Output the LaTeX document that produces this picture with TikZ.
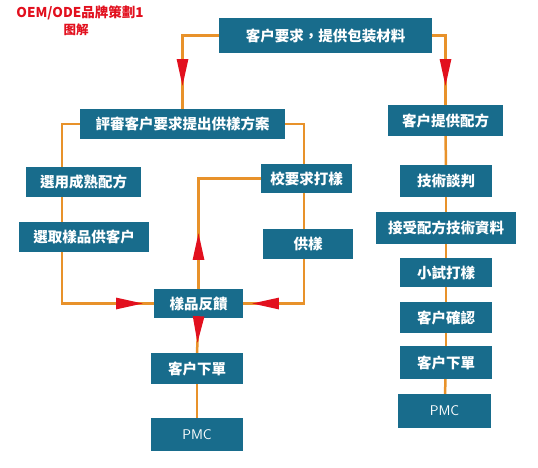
\documentclass[tikz,border=0pt]{standalone}
\usepackage{fontspec}
\usepackage{tikz}
\usetikzlibrary{arrows.meta,decorations.markings}
\newfontfamily\cjk{Noto Sans CJK TC}
\definecolor{Micolor1}{RGB}{24,108,140}
\definecolor{Micolor2}{RGB}{232,146,42}
\definecolor{Micolor3}{RGB}{226,16,30}

\begin{document}
\begin{tikzpicture}[x=1pt,y=-1pt,
 box/.style={fill=Micolor1,text=white,inner sep=0pt,font=\cjk\bfseries\fontsize{14.5}{16}\selectfont},
 link/.style={draw=Micolor2,line width=2.5pt},
 redtip/.style={postaction={decorate},decoration={markings,
   mark=at position #1 with {\arrow{Triangle[length=27pt,width=11pt,color=Micolor3,fill=Micolor3]}}}}]
\useasboundingbox[fill=white] (0,0) rectangle (538,468);
\node[text=Micolor3,font=\cjk\bfseries\fontsize{13.5}{15}\selectfont] (title) at (80,13) {OEM/ODE品牌策劃1};
\node[text=Micolor3,font=\cjk\bfseries\fontsize{12.5}{14}\selectfont] (subtitle) at (76,30) {图解};

\node[box,minimum width=213pt,minimum height=35pt] (top) at (325.5,35.5) {客户要求，提供包装材料};
\node[box,minimum width=205pt,minimum height=30pt] (review) at (182.5,124) {評審客户要求提出供樣方案};
\node[box,minimum width=115pt,minimum height=31pt] (provide) at (445.5,120.5) {客户提供配方};
\node[box,minimum width=115pt,minimum height=30pt] (choose) at (83.5,182) {選用成熟配方};
\node[box,minimum width=130pt,minimum height=30pt] (pick) at (84,237) {選取樣品供客户};
\node[box,minimum width=91pt,minimum height=29pt] (check) at (306.5,178.5) {校要求打樣};
\node[box,minimum width=90pt,minimum height=30pt] (sample) at (308,244) {供樣};
\node[box,minimum width=89pt,minimum height=29pt] (feedback) at (198.5,303.5) {樣品反饋};
\node[box,minimum width=92pt,minimum height=31pt] (order) at (197,368.5) {客户下單};
\node[box,minimum width=92pt,minimum height=33pt,font=\sffamily\fontsize{14}{16}\selectfont] (pmc) at (197,434.5) {PMC};
\node[box,minimum width=92pt,minimum height=32pt] (tech) at (446,181) {技術談判};
\node[box,minimum width=140pt,minimum height=32pt] (accept) at (446,228) {接受配方技術資料};
\node[box,minimum width=92pt,minimum height=29pt] (trial) at (446,272.5) {小試打樣};
\node[box,minimum width=92pt,minimum height=31pt] (confirm) at (446,317.5) {客户確認};
\node[box,minimum width=92pt,minimum height=33pt] (order2) at (446,362.5) {客户下單};
\node[box,minimum width=93pt,minimum height=34pt,font=\sffamily\fontsize{14}{16}\selectfont] (pmc2) at (444.5,411) {PMC};
\coordinate (lx) at (62,0);
\coordinate (rx) at (304,0);

\draw[link,redtip=87pt] (top.west) -| (review.north);
\draw[link,redtip=64pt] (top.east) -| (provide.north);
\draw[link] (review.west) -| (choose.north -| lx);
\draw[link] (choose.south -| lx) -- (pick.north -| lx);
\draw[link,redtip=132.5pt] (pick.south -| lx) |- (feedback.west);
\draw[link] (review.east) -| (check.north -| rx);
\draw[link] (check.south -| rx) -- (sample.north -| rx);
\draw[link,redtip=96.5pt] (sample.south -| rx) |- (feedback.east);
\draw[link,redtip=56pt] (feedback.north) |- (check.west);
\draw[link,redtip=25pt] (feedback.south) -- (order.north);
\draw[link] (order) -- (pmc);
\foreach \a/\b in {provide/tech,tech/accept,accept/trial,trial/confirm,confirm/order2,order2/pmc2}
\draw[link] (\a) -- (\b);
\end{tikzpicture}
\end{document}
